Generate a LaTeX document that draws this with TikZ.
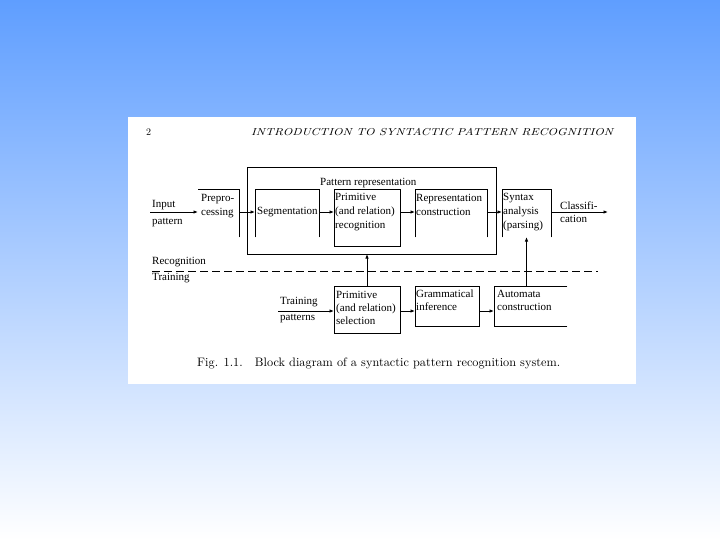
\documentclass[tikz,border=0pt]{standalone}
\usepackage{fontspec}
\newfontfamily\tms{Liberation Serif}
\usetikzlibrary{arrows.meta}
\definecolor{bgtop}{RGB}{95,158,255}
\begin{document}
\begin{tikzpicture}[x=1pt,y=-1pt,
  blk/.style={shape=rectangle,inner sep=0pt,outer sep=0pt},
  ln/.style={line width=0.9pt,line cap=rect},
  arr/.style={line width=0.9pt,-{Latex[length=4.5pt,width=3.5pt]}},
  lbl/.style={font=\tms\fontsize{11}{14}\selectfont,anchor=west,inner sep=0pt,align=left},
  lbll/.style={font=\tms\fontsize{11}{13}\selectfont,anchor=west,inner sep=0pt,align=left}]
\useasboundingbox (0,0) rectangle (720,540);
\shade[top color=bgtop, bottom color=white] (0,0) rectangle (720,540);
\fill[white] (128,117) rectangle (636,384);

% header and caption
\node[anchor=west,inner sep=0pt,font=\fontsize{10}{12}\selectfont] (pg) at (146,132) {2};
\node[anchor=west,inner sep=0pt] (hd) at (251,132) {\resizebox{362pt}{7.2pt}{\itshape INTRODUCTION TO SYNTACTIC PATTERN RECOGNITION}};
\node[anchor=west,inner sep=0pt] (cap) at (197,363) {\resizebox{363pt}{!}{Fig. 1.1.\quad Block diagram of a syntactic pattern recognition system.}};

% box frames (named)
\node[blk,minimum width=249pt,minimum height=87pt,draw,line width=0.9pt] (outer) at (371.5,210.5) {};
\node[blk,minimum width=41pt,minimum height=48pt] (pre) at (218.5,213) {};
\node[blk,minimum width=64pt,minimum height=48pt] (seg) at (287,213) {};
\node[blk,minimum width=66pt,minimum height=57pt,draw,line width=0.9pt,fill=white] (prim) at (367,217.5) {};
\node[blk,minimum width=72pt,minimum height=48pt] (rep) at (451,213) {};
\node[blk,minimum width=49pt,minimum height=48pt] (syn) at (526.5,213) {};
\node[blk,minimum width=66pt,minimum height=47pt,draw,line width=0.9pt] (psel) at (367,309.5) {};
\node[blk,minimum width=64pt,minimum height=40pt,draw,line width=0.9pt] (gram) at (447,306) {};
\node[blk,minimum width=73pt,minimum height=40pt] (auto) at (530.5,306) {};

\draw[ln] (pre.north west) -- (pre.north east) -- (pre.south east);
\draw[ln] (seg.south west) -- (seg.north west) -- (seg.north east) -- (seg.south east);
\draw[ln] (rep.south west) -- (rep.north west) -- (rep.north east) -- (rep.south east);
\draw[ln] (syn.south west) -- (syn.north west) -- (syn.north east) -- (syn.south east);
\draw[ln] (auto.north east) -- (auto.north west) -- (auto.south west) -- (auto.south east);

% free ends
\coordinate (inp) at (150,212);
\coordinate (cls) at (608,212);
\coordinate (tp) at (278,311);
\coordinate (d1) at (152,271);
\coordinate (d2) at (598,271);

% connectors
\draw[arr] (inp) -- (pre.west |- inp);
\draw[arr] (pre.east |- inp) -- (seg.west |- inp);
\draw[arr] (seg.east |- inp) -- (prim.west |- inp);
\draw[arr] (prim.east |- inp) -- (rep.west |- inp);
\draw[arr] (rep.east |- inp) -- (syn.west |- inp);
\draw[arr] (syn.east |- inp) -- (cls);
\draw[arr] (tp) -- (psel.west |- tp);
\draw[arr] (psel.east |- tp) -- (gram.west |- tp);
\draw[arr] (gram.east |- tp) -- (auto.west |- tp);
\draw[arr] (psel.north) -- (psel.north |- outer.south);
\draw[arr] (syn.south |- auto.north) -- (syn.south);
\draw[line width=0.9pt,dash pattern=on 8pt off 4pt] (d1) -- (d2);

% labels
\node[lbl] (tpr) at (320,183) {Pattern representation};
\node[lbl] (t1) at (152,205) {Input};
\node[lbl] (t2) at (152,223) {pattern};
\node[lbl] (t3) at (201,206) {Prepro-\\cessing};
\node[lbl] (t4) at (257,212) {Segmentation};
\node[lbl] (t5) at (335,212) {Primitive\\(and relation)\\recognition};
\node[lbl] (t6) at (416,205) {Representation\\construction};
\node[lbl] (t7) at (503,212) {Syntax\\analysis\\(parsing)};
\node[lbll] (t8) at (560,212.5) {Classifi-\\cation};
\node[lbl] (t9) at (152,262) {Recognition};
\node[lbl] (t10) at (152,278) {Training};
\node[lbl] (t11) at (280,302) {Training};
\node[lbl] (t12) at (280,319) {patterns};
\node[lbll] (t13) at (336,307.5) {Primitive\\(and relation)\\selection};
\node[lbll] (t14) at (416,300.5) {Grammatical\\inference};
\node[lbll] (t15) at (497,300.5) {Automata\\construction};
\end{tikzpicture}
\end{document}
